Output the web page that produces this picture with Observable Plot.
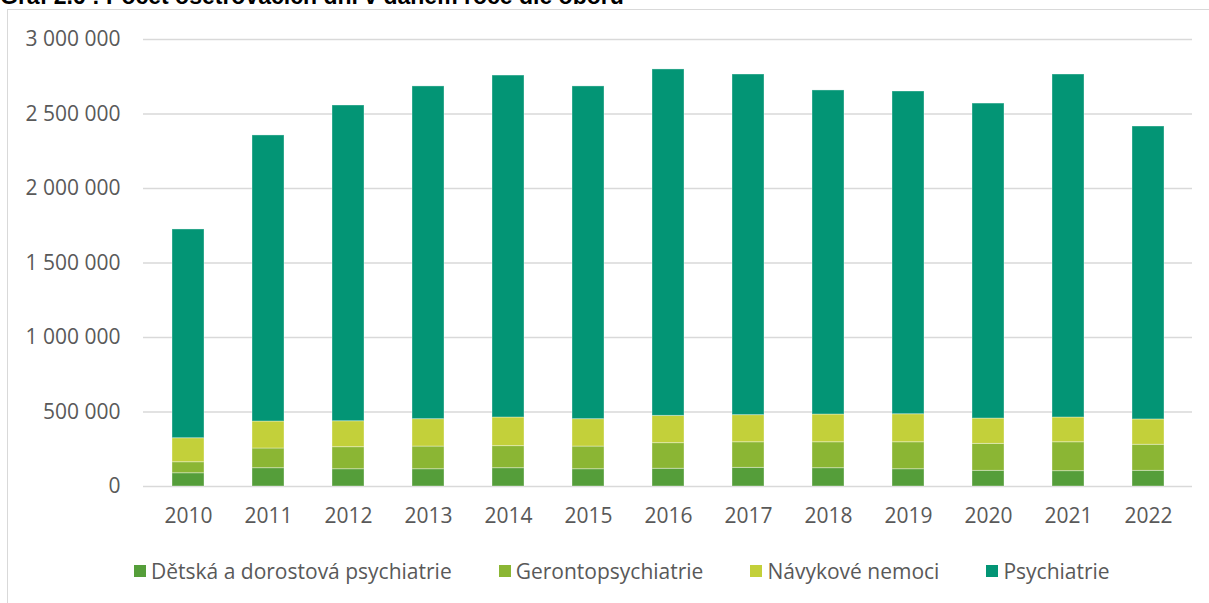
<!DOCTYPE html>
<html>
<head>
<meta charset="utf-8">
<script src="https://cdn.jsdelivr.net/npm/d3@7"></script>
<script src="https://cdn.jsdelivr.net/npm/@observablehq/plot@0.6"></script>
<style>
  html, body { margin: 0; padding: 0; background: #fff; width: 1209px; height: 603px; overflow: hidden; }
  #title { position: absolute; left: 0px; top: -17px; font: bold 23px "Liberation Sans", Arial, sans-serif; line-height: 26px; color: #000; white-space: nowrap; }
  #frame { position: absolute; left: 7px; top: 9px; width: 1300px; height: 700px; border: 1px solid #d9d9d9; box-sizing: border-box; background: #fff; }
  #chart { position: absolute; left: 0; top: 0; }
  #legend { position: absolute; top: 557px; left: 134px; display: flex; font: 21px "Open Sans", sans-serif; color: #595959; white-space: nowrap; }
  #legend .item { display: flex; align-items: center; margin-right: 47px; }
  #legend .sw { width: 12px; height: 12px; margin-right: 5px; }
</style>
</head>
<body>
<div id="title">Graf 2.6 : Počet ošetřovacích dní v daném roce dle oboru</div>
<div id="frame"></div>
<div id="chart"></div>
<div id="legend"></div>
<script>
const years = ["2010","2011","2012","2013","2014","2015","2016","2017","2018","2019","2020","2021","2022"];
const seriesNames = ["Dětská a dorostová psychiatrie", "Gerontopsychiatrie", "Návykové nemoci", "Psychiatrie"];
const seriesColors = ["#559e3a", "#8bb634", "#c3d03a", "#039575"];
const detska    = [89000, 123000, 116000, 116000, 123000, 116000, 119000, 125000, 123000, 116000, 105000, 103000, 105000];
const gero      = [74000, 132000, 148000, 152000, 148000, 152000, 172000, 172000, 174000, 181000, 181000, 194000, 175000];
const navykove  = [161000, 181000, 174000, 184000, 192000, 184000, 183000, 182000, 186000, 188000, 170000, 166000, 170000];
const psychiatrie = [1401000, 1920000, 2119000, 2233000, 2295000, 2233000, 2325000, 2286000, 2175000, 2166000, 2114000, 2302000, 1966000];
const yTicks = [0, 500000, 1000000, 1500000, 2000000, 2500000, 3000000];

const seriesValues = [detska, gero, navykove, psychiatrie];
const data = [];
years.forEach((y, i) => {
  seriesNames.forEach((s, j) => data.push({year: y, series: s, value: seriesValues[j][i]}));
});

const fmt = d3.formatLocale({decimal: ",", thousands: "\u00a0", grouping: [3], currency: ["", ""]}).format(",");

const plot = Plot.plot({
  width: 1209,
  height: 540,
  marginTop: 39,
  marginBottom: 54,
  marginLeft: 143,
  marginRight: 17,
  style: {fontFamily: "'Open Sans', sans-serif", fontSize: "21px", color: "#595959", background: "transparent", overflow: "visible"},
  x: {domain: years, paddingInner: 0.6, paddingOuter: 0.3, label: null},
  y: {domain: [0, 3000000], label: null},
  color: {domain: seriesNames, range: seriesColors},
  marks: [
    Plot.ruleY(yTicks, {stroke: "#d9d9d9", strokeWidth: 1.5}),
    Plot.barY(data, {x: "year", y: "value", fill: "series", order: seriesNames, stroke: "#ffffff", strokeOpacity: 0.35, strokeWidth: 1}),
    Plot.axisY({ticks: yTicks, tickFormat: fmt, tickSize: 0, tickPadding: 23, label: null, fill: "#595959"}),
    Plot.axisX({tickSize: 0, tickPadding: 22, label: null, fill: "#595959"})
  ]
});
document.getElementById("chart").appendChild(plot);

const legend = document.getElementById("legend");
seriesNames.forEach((s, i) => {
  const item = document.createElement("div");
  item.className = "item";
  const sw = document.createElement("div");
  sw.className = "sw";
  sw.style.background = seriesColors[i];
  const t = document.createElement("span");
  t.textContent = s;
  item.appendChild(sw);
  item.appendChild(t);
  legend.appendChild(item);
});
</script>
</body>
</html>
